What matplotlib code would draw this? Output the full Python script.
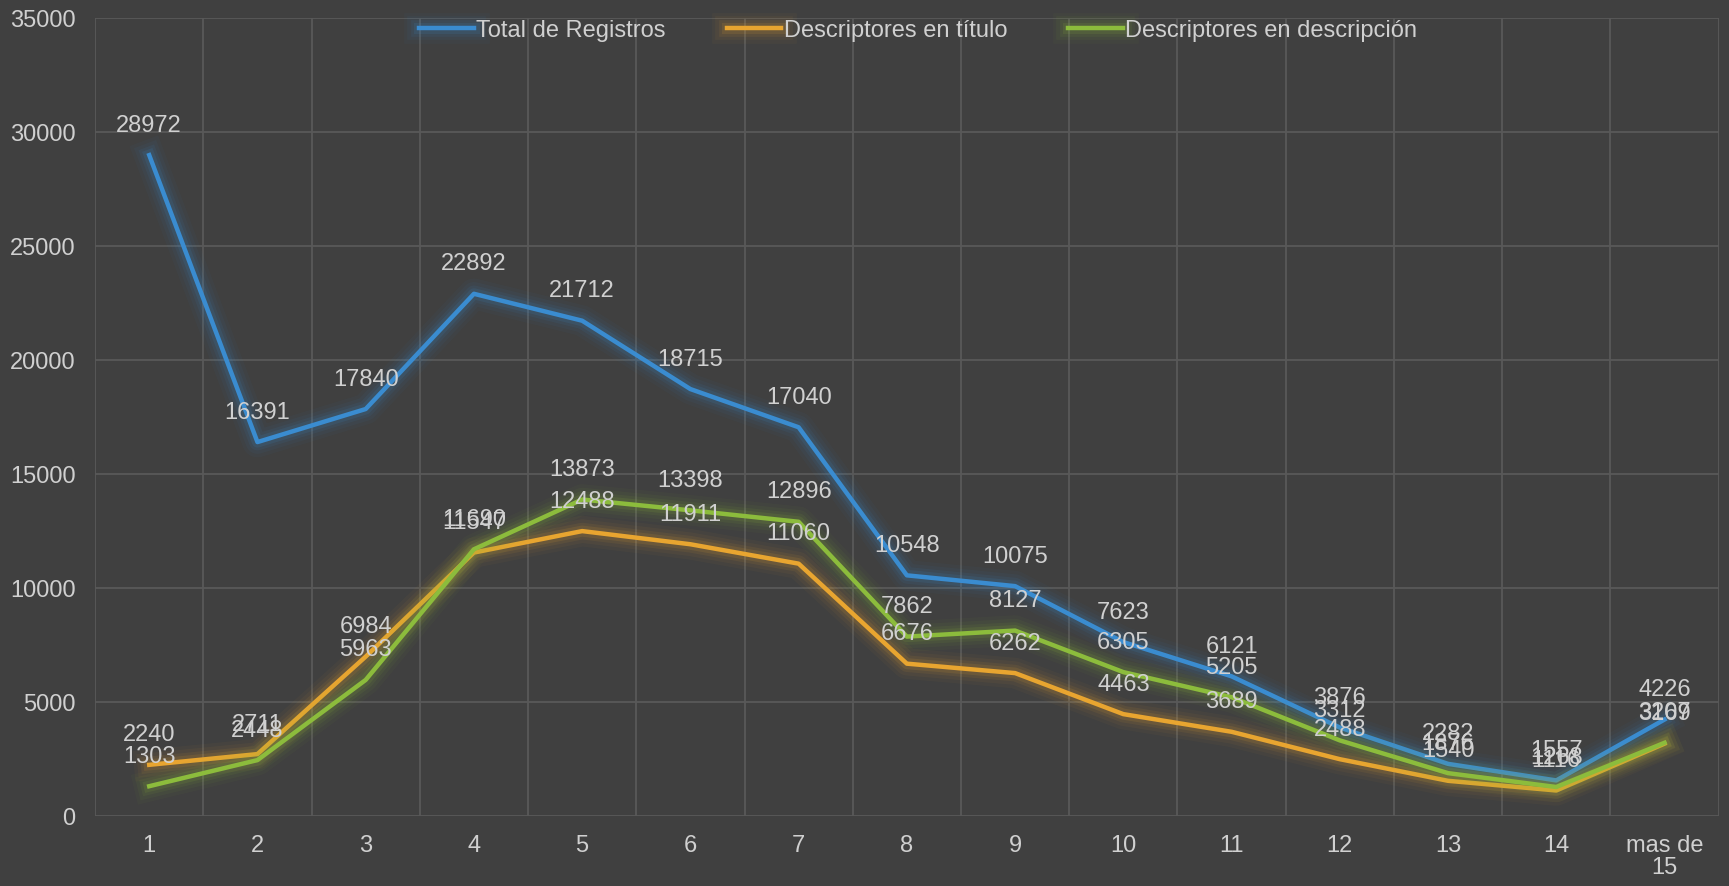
import matplotlib
matplotlib.use("Agg")
import matplotlib.pyplot as plt
import matplotlib.patheffects as pe
import numpy as np

plt.rcParams["font.family"] = ["Liberation Sans", "DejaVu Sans"]

categorias = ["1", "2", "3", "4", "5", "6", "7", "8", "9", "10", "11", "12", "13", "14", "mas de\n15"]
total = [28972, 16391, 17840, 22892, 21712, 18715, 17040, 10548, 10075, 7623, 6121, 3876, 2282, 1557, 4226]
titulo = [2240, 2711, 6984, 11547, 12488, 11911, 11060, 6676, 6262, 4463, 3689, 2488, 1540, 1116, 3169]
descripcion = [1303, 2448, 5963, 11690, 13873, 13398, 12896, 7862, 8127, 6305, 5205, 3312, 1876, 1268, 3207]

series = [
    ("Total de Registros", total, "#3a8cd0"),
    ("Descriptores en título", titulo, "#e8a530"),
    ("Descriptores en descripción", descripcion, "#8cbc3c"),
]

bg = "#404040"
txt = "#d0d0d0"
grid = "#595959"

fig = plt.figure(figsize=(17.29, 8.87), dpi=100, facecolor=bg)
ax = fig.add_axes([0.055, 0.079, 0.939, 0.9])
ax.set_facecolor(bg)

x = np.arange(1, len(categorias) + 1)
for nombre, vals, col in series:
    glow = [pe.Stroke(linewidth=w, foreground=col, alpha=a)
            for w, a in [(22, 0.04), (17, 0.05), (12, 0.08), (8, 0.12)]]
    glow.append(pe.Normal())
    ax.plot(x, vals, color=col, lw=3.2, label=nombre, path_effects=glow, zorder=3)
for nombre, vals, col in series:
    for xi, v in zip(x, vals):
        ax.annotate(str(v), (xi, v), xytext=(0, 14), textcoords="offset points",
                    ha="center", va="bottom", fontsize=17, color=txt, zorder=5)

ax.set_xlim(0.5, len(categorias) + 0.5)
ax.set_ylim(0, 35000)
ax.set_yticks(np.arange(0, 35001, 5000))
ax.set_xticks(x)
ax.set_xticklabels(categorias, linespacing=1.0)
ax.set_xticks(np.arange(0.5, len(categorias) + 1, 1), minor=True)
ax.grid(True, which="minor", axis="x", color=grid, lw=1.3)
ax.grid(True, which="major", axis="y", color=grid, lw=1.3)
ax.set_axisbelow(True)
ax.tick_params(which="both", length=0)
ax.tick_params(axis="y", labelsize=17, labelcolor=txt, pad=14)
ax.tick_params(axis="x", labelsize=17, labelcolor=txt, pad=13)
for s in ax.spines.values():
    s.set_visible(False)

leg = ax.legend(loc="upper center", bbox_to_anchor=(0.507, 1.025), ncol=3, frameon=False,
                fontsize=17, labelcolor=txt, handlelength=2.3, handletextpad=0.1,
                columnspacing=2.6)

fig.savefig("out.png", dpi=100, facecolor=bg)
